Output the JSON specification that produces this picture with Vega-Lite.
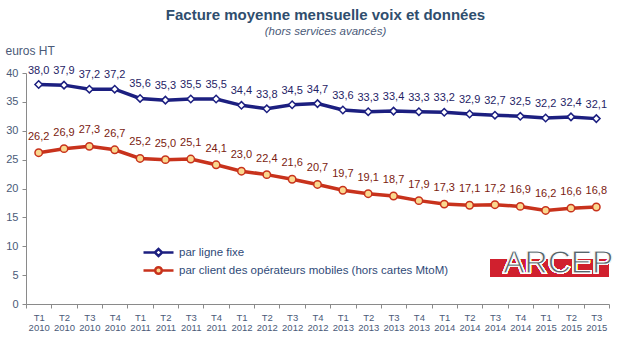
{
  "$schema": "https://vega.github.io/schema/vega-lite/v6.json",
  "autosize": {"type": "none"},
  "width": 583,
  "height": 231,
  "padding": {"left": 26, "top": 73, "right": 11, "bottom": 46},
  "background": "white",
  "title": {
    "text": "Facture moyenne mensuelle voix et données",
    "subtitle": "(hors services avancés)",
    "anchor": "middle",
    "dx": 8,
    "offset": 7
  },
  "config": {
    "locale": {"number": {"decimal": ",", "thousands": " ", "grouping": [3], "currency": ["", " €"]}},
    "font": "Liberation Sans",
    "view": {"stroke": null},
    "title": {
      "font": "Liberation Sans",
      "fontSize": 15,
      "fontWeight": "bold",
      "color": "#2F4E6E",
      "subtitleFont": "Liberation Sans",
      "subtitleFontSize": 11.5,
      "subtitleFontStyle": "italic",
      "subtitleColor": "#4A5A78",
      "subtitlePadding": 3
    }
  },
  "data": {
    "values": [
      {"q": "T1 2010", "s": "par ligne fixe", "v": 38.0},
      {"q": "T2 2010", "s": "par ligne fixe", "v": 37.9},
      {"q": "T3 2010", "s": "par ligne fixe", "v": 37.2},
      {"q": "T4 2010", "s": "par ligne fixe", "v": 37.2},
      {"q": "T1 2011", "s": "par ligne fixe", "v": 35.6},
      {"q": "T2 2011", "s": "par ligne fixe", "v": 35.3},
      {"q": "T3 2011", "s": "par ligne fixe", "v": 35.5},
      {"q": "T4 2011", "s": "par ligne fixe", "v": 35.5},
      {"q": "T1 2012", "s": "par ligne fixe", "v": 34.4},
      {"q": "T2 2012", "s": "par ligne fixe", "v": 33.8},
      {"q": "T3 2012", "s": "par ligne fixe", "v": 34.5},
      {"q": "T4 2012", "s": "par ligne fixe", "v": 34.7},
      {"q": "T1 2013", "s": "par ligne fixe", "v": 33.6},
      {"q": "T2 2013", "s": "par ligne fixe", "v": 33.3},
      {"q": "T3 2013", "s": "par ligne fixe", "v": 33.4},
      {"q": "T4 2013", "s": "par ligne fixe", "v": 33.3},
      {"q": "T1 2014", "s": "par ligne fixe", "v": 33.2},
      {"q": "T2 2014", "s": "par ligne fixe", "v": 32.9},
      {"q": "T3 2014", "s": "par ligne fixe", "v": 32.7},
      {"q": "T4 2014", "s": "par ligne fixe", "v": 32.5},
      {"q": "T1 2015", "s": "par ligne fixe", "v": 32.2},
      {"q": "T2 2015", "s": "par ligne fixe", "v": 32.4},
      {"q": "T3 2015", "s": "par ligne fixe", "v": 32.1},
      {"q": "T1 2010", "s": "par client des opérateurs mobiles (hors cartes MtoM)", "v": 26.2},
      {"q": "T2 2010", "s": "par client des opérateurs mobiles (hors cartes MtoM)", "v": 26.9},
      {"q": "T3 2010", "s": "par client des opérateurs mobiles (hors cartes MtoM)", "v": 27.3},
      {"q": "T4 2010", "s": "par client des opérateurs mobiles (hors cartes MtoM)", "v": 26.7},
      {"q": "T1 2011", "s": "par client des opérateurs mobiles (hors cartes MtoM)", "v": 25.2},
      {"q": "T2 2011", "s": "par client des opérateurs mobiles (hors cartes MtoM)", "v": 25.0},
      {"q": "T3 2011", "s": "par client des opérateurs mobiles (hors cartes MtoM)", "v": 25.1},
      {"q": "T4 2011", "s": "par client des opérateurs mobiles (hors cartes MtoM)", "v": 24.1},
      {"q": "T1 2012", "s": "par client des opérateurs mobiles (hors cartes MtoM)", "v": 23.0},
      {"q": "T2 2012", "s": "par client des opérateurs mobiles (hors cartes MtoM)", "v": 22.4},
      {"q": "T3 2012", "s": "par client des opérateurs mobiles (hors cartes MtoM)", "v": 21.6},
      {"q": "T4 2012", "s": "par client des opérateurs mobiles (hors cartes MtoM)", "v": 20.7},
      {"q": "T1 2013", "s": "par client des opérateurs mobiles (hors cartes MtoM)", "v": 19.7},
      {"q": "T2 2013", "s": "par client des opérateurs mobiles (hors cartes MtoM)", "v": 19.1},
      {"q": "T3 2013", "s": "par client des opérateurs mobiles (hors cartes MtoM)", "v": 18.7},
      {"q": "T4 2013", "s": "par client des opérateurs mobiles (hors cartes MtoM)", "v": 17.9},
      {"q": "T1 2014", "s": "par client des opérateurs mobiles (hors cartes MtoM)", "v": 17.3},
      {"q": "T2 2014", "s": "par client des opérateurs mobiles (hors cartes MtoM)", "v": 17.1},
      {"q": "T3 2014", "s": "par client des opérateurs mobiles (hors cartes MtoM)", "v": 17.2},
      {"q": "T4 2014", "s": "par client des opérateurs mobiles (hors cartes MtoM)", "v": 16.9},
      {"q": "T1 2015", "s": "par client des opérateurs mobiles (hors cartes MtoM)", "v": 16.2},
      {"q": "T2 2015", "s": "par client des opérateurs mobiles (hors cartes MtoM)", "v": 16.6},
      {"q": "T3 2015", "s": "par client des opérateurs mobiles (hors cartes MtoM)", "v": 16.8}
    ]
  },
  "encoding": {
    "x": {
      "field": "q",
      "type": "nominal",
      "sort": null,
      "scale": {
        "type": "band",
        "paddingInner": 0,
        "paddingOuter": 0,
        "domain": ["T1 2010", "T2 2010", "T3 2010", "T4 2010", "T1 2011", "T2 2011", "T3 2011", "T4 2011", "T1 2012", "T2 2012", "T3 2012", "T4 2012", "T1 2013", "T2 2013", "T3 2013", "T4 2013", "T1 2014", "T2 2014", "T3 2014", "T4 2014", "T1 2015", "T2 2015", "T3 2015"]
      },
      "axis": {
        "title": null,
        "labelAngle": 0,
        "labelExpr": "split(datum.label, ' ')",
        "labelFontSize": 9.5,
        "labelLineHeight": 10,
        "labelColor": "#4A5A78",
        "labelPadding": 4,
        "tickBand": "extent",
        "tickSize": 4,
        "tickColor": "#8A8A8A",
        "domainColor": "#8A8A8A",
        "labelBaseline": "top"
      }
    },
    "y": {
      "field": "v",
      "type": "quantitative",
      "scale": {"domain": [0, 40], "nice": false},
      "axis": {
        "values": [0, 5, 10, 15, 20, 25, 30, 35, 40],
        "grid": false,
        "title": "euros HT",
        "titleAngle": 0,
        "titleAlign": "left",
        "titleBaseline": "middle",
        "titleX": -21,
        "titleY": -23,
        "titleFontSize": 12,
        "titleFontWeight": "normal",
        "titleColor": "#4A5A78",
        "labelFontSize": 11,
        "labelColor": "#4A5A78",
        "labelPadding": 4,
        "tickSize": 4,
        "tickColor": "#8A8A8A",
        "domainColor": "#8A8A8A"
      }
    }
  },
  "layer": [
    {
      "mark": {"type": "rect", "color": "#D0202E"},
      "encoding": {
        "x": {"datum": "T3 2014", "bandPosition": 0.33},
        "x2": {"datum": "T3 2015", "bandPosition": 1},
        "y": {"datum": 7.8},
        "y2": {"datum": 4.7}
      }
    },
    {
      "mark": {"type": "text", "text": "ARCEP", "font": "Liberation Sans", "fontSize": 32, "fill": "#56656B", "stroke": "white", "strokeWidth": 1, "align": "center", "baseline": "alphabetic", "letterSpacing": 1},
      "encoding": {
        "x": {"datum": "T2 2015", "bandPosition": 0},
        "y": {"datum": 5.3}
      }
    },
    {
      "mark": {"type": "line", "strokeWidth": 3.5},
      "encoding": {
        "color": {
          "field": "s",
          "type": "nominal",
          "sort": null,
          "scale": {"domain": ["par ligne fixe", "par client des opérateurs mobiles (hors cartes MtoM)"], "range": ["#1C1F80", "#C8321C"]},
          "legend": {
            "title": null,
            "orient": "none",
            "legendX": 126,
            "legendY": 173,
            "symbolType": "M-3,0H-0.7M0.7,0H3",
            "symbolSize": 100,
            "symbolStrokeWidth": 2.5,
            "labelOffset": 14,
            "labelFontSize": 11.5,
            "labelLimit": 400,
            "labelColor": "#2F4A78",
            "rowPadding": 0,
            "encode": {
              "symbols": {
                "update": {
                  "fill": {"signal": "datum.value == 'par ligne fixe' ? 'white' : '#FAD88F'"},
                  "shape": {"signal": "datum.value == 'par ligne fixe' ? 'M-3,0H-0.72M0.72,0H3M-0.72,0L0,-0.72L0.72,0L0,0.72Z' : 'M-3,0H-0.66M0.66,0H3M-0.66,0A0.66,0.66 0 1,0 0.66,0A0.66,0.66 0 1,0 -0.66,0Z'"}
                }
              }
            }
          }
        }
      }
    },
    {
      "transform": [{"filter": "datum.s == 'par ligne fixe'"}],
      "mark": {"type": "point", "shape": "diamond", "filled": true, "size": 55, "strokeWidth": 1.5, "opacity": 1, "fill": "white", "stroke": "#1C1F80"},
      "encoding": {}
    },
    {
      "transform": [{"filter": "datum.s != 'par ligne fixe'"}],
      "mark": {"type": "point", "shape": "circle", "filled": true, "size": 55, "strokeWidth": 1.5, "opacity": 1, "fill": "#FAD88F", "stroke": "#C8321C"},
      "encoding": {}
    },
    {
      "transform": [{"filter": "datum.s == 'par ligne fixe'"}],
      "mark": {"type": "text", "dy": -14, "fontSize": 11, "color": "#1F2466", "baseline": "middle"},
      "encoding": {"text": {"field": "v", "type": "quantitative", "format": ".1f"}}
    },
    {
      "transform": [{"filter": "datum.s != 'par ligne fixe'"}],
      "mark": {"type": "text", "dy": -16, "fontSize": 11, "color": "#7A1A10", "baseline": "middle"},
      "encoding": {"text": {"field": "v", "type": "quantitative", "format": ".1f"}}
    }
  ]
}
